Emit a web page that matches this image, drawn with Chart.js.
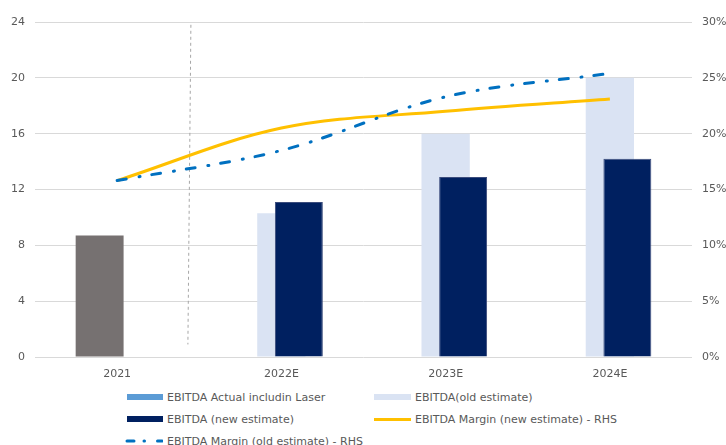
<!DOCTYPE html>
<html>
<head>
<meta charset="utf-8">
<script src="https://cdn.jsdelivr.net/npm/chart.js@4"></script>
<style>
  body { margin: 0; background: #fff; font-family: "DejaVu Sans", Verdana, sans-serif; }
  #wrap { position: relative; width: 726px; height: 445px; }
  #box { position: absolute; left: 0; top: 0; width: 726px; height: 390px; }
  .lg { position: absolute; font-size: 11px; color: #595959; white-space: nowrap; display: flex; align-items: center; height: 14px; }
  .lg .sw { display: inline-block; margin-right: 4px; }
</style>
</head>
<body>
<div id="wrap">
  <div id="box"><canvas id="ebitdaChart"></canvas></div>
  <div id="legend"></div>
</div>
<script>
// categories and series (EBITDA in left units, margins in %)
const categories = ['2021', '2022E', '2023E', '2024E'];
const ebitdaActual = [8.7, null, null, null];
const ebitdaOld = [null, 10.3, 16.0, 20.0];
const ebitdaNew = [null, 11.1, 12.9, 14.2];
const marginNew = [15.8, 20.5, 22.0, 23.1];
const marginOld = [15.8, 18.5, 23.3, 25.4];

const seriesNames = [
    'EBITDA Actual includin Laser',
    'EBITDA(old estimate)',
    'EBITDA (new estimate)',
    'EBITDA Margin (new estimate) - RHS',
    'EBITDA Margin (old estimate) - RHS'
];

const txt = '#595959';
const gridCol = '#D9D9D9';

// dotted divider between actuals and estimates
const dividerPlugin = {
    id: 'divider',
    beforeDatasetsDraw(chart) {
        const x = chart.scales.x.getPixelForValue(0.44);
        const y = chart.scales.y;
        const c = chart.ctx;
        c.save();
        c.strokeStyle = '#A6A6A6';
        c.lineWidth = 1;
        c.setLineDash([3, 3]);
        c.beginPath();
        c.moveTo(x + 1.5, y.getPixelForValue(23.8));
        c.lineTo(x - 1.5, y.getPixelForValue(0.9));
        c.stroke();
        c.restore();
    }
};

const ctx = document.getElementById('ebitdaChart').getContext('2d');
new Chart(ctx, {
    data: {
        labels: categories,
        datasets: [{
            type: 'bar',
            label: seriesNames[0],
            data: ebitdaActual,
            backgroundColor: '#767171',
            categoryPercentage: 0.426,
            barPercentage: 1.37,
            order: 2
        }, {
            // old estimate sits behind, centred on the category
            type: 'bar',
            label: seriesNames[1],
            data: ebitdaOld,
            backgroundColor: '#DAE3F3',
            grouped: false,
            categoryPercentage: 0.3,
            barPercentage: 0.98,
            order: 3
        }, {
            type: 'bar',
            label: seriesNames[2],
            data: ebitdaNew,
            backgroundColor: '#002060',
            borderColor: '#3B4C7C',
            borderWidth: 1,
            categoryPercentage: 0.426,
            barPercentage: 1.37,
            order: 2
        }, {
            type: 'line',
            label: seriesNames[3],
            data: marginNew,
            borderColor: '#FFC000',
            borderWidth: 3,
            pointRadius: 0,
            tension: 0.35,
            fill: false,
            yAxisID: 'y2',
            order: 1
        }, {
            type: 'line',
            label: seriesNames[4],
            data: marginOld,
            borderColor: '#0070C0',
            borderWidth: 3,
            borderDash: [9, 13, 1, 12],
            borderCapStyle: 'round',
            pointRadius: 0,
            tension: 0.35,
            fill: false,
            yAxisID: 'y2',
            order: 0
        }]
    },
    options: {
        responsive: true,
        maintainAspectRatio: false,
        animation: false,
        layout: { padding: { top: 22, left: 0, right: 0, bottom: 0 } },
        plugins: {
            legend: { display: false },
            tooltip: { enabled: false }
        },
        scales: {
            x: {
                type: 'category',
                offset: true,
                grid: { display: false },
                border: { display: false },
                ticks: { color: txt, font: { family: 'DejaVu Sans', size: 11 }, padding: 3, maxRotation: 0 },
                afterFit(s) { s.height = 33; }
            },
            y: {
                position: 'left',
                min: 0,
                max: 24,
                ticks: { stepSize: 4, color: txt, font: { family: 'DejaVu Sans', size: 11 }, padding: 10 },
                grid: { color: gridCol, drawTicks: false },
                border: { display: false },
                afterFit(s) { s.width = 35; }
            },
            y2: {
                position: 'right',
                min: 0,
                max: 30,
                ticks: {
                    stepSize: 5,
                    color: txt,
                    font: { family: 'DejaVu Sans', size: 11 },
                    padding: 10,
                    callback: v => v + '%'
                },
                grid: { display: false, drawTicks: false },
                border: { display: false },
                afterFit(s) { s.width = 34; }
            }
        }
    },
    plugins: [dividerPlugin]
});

// legend laid out in two columns below the plot
const legendItems = [
    { name: seriesNames[0], left: 127, top: 390, sw: '<span class="sw" style="width:36px;height:6px;background:#5B9BD5"></span>' },
    { name: seriesNames[1], left: 374, top: 390, sw: '<span class="sw" style="width:37px;height:6px;background:#DAE3F3"></span>' },
    { name: seriesNames[2], left: 127, top: 412, sw: '<span class="sw" style="width:36px;height:6px;background:#002060"></span>' },
    { name: seriesNames[3], left: 374, top: 412, sw: '<span class="sw" style="width:37px;height:3px;background:#FFC000"></span>' },
    { name: seriesNames[4], left: 125, top: 434, sw: '<svg class="sw" width="38" height="6"><line x1="2" y1="3" x2="37" y2="3" stroke="#0070C0" stroke-width="3" stroke-linecap="round" stroke-dasharray="7 10 0.5 13"/></svg>' }
];
const legendEl = document.getElementById('legend');
legendItems.forEach(it => {
    const d = document.createElement('div');
    d.className = 'lg';
    d.style.left = it.left + 'px';
    d.style.top = it.top + 'px';
    d.innerHTML = it.sw + '<span></span>';
    d.lastChild.textContent = it.name;
    legendEl.appendChild(d);
});
</script>
</body>
</html>
